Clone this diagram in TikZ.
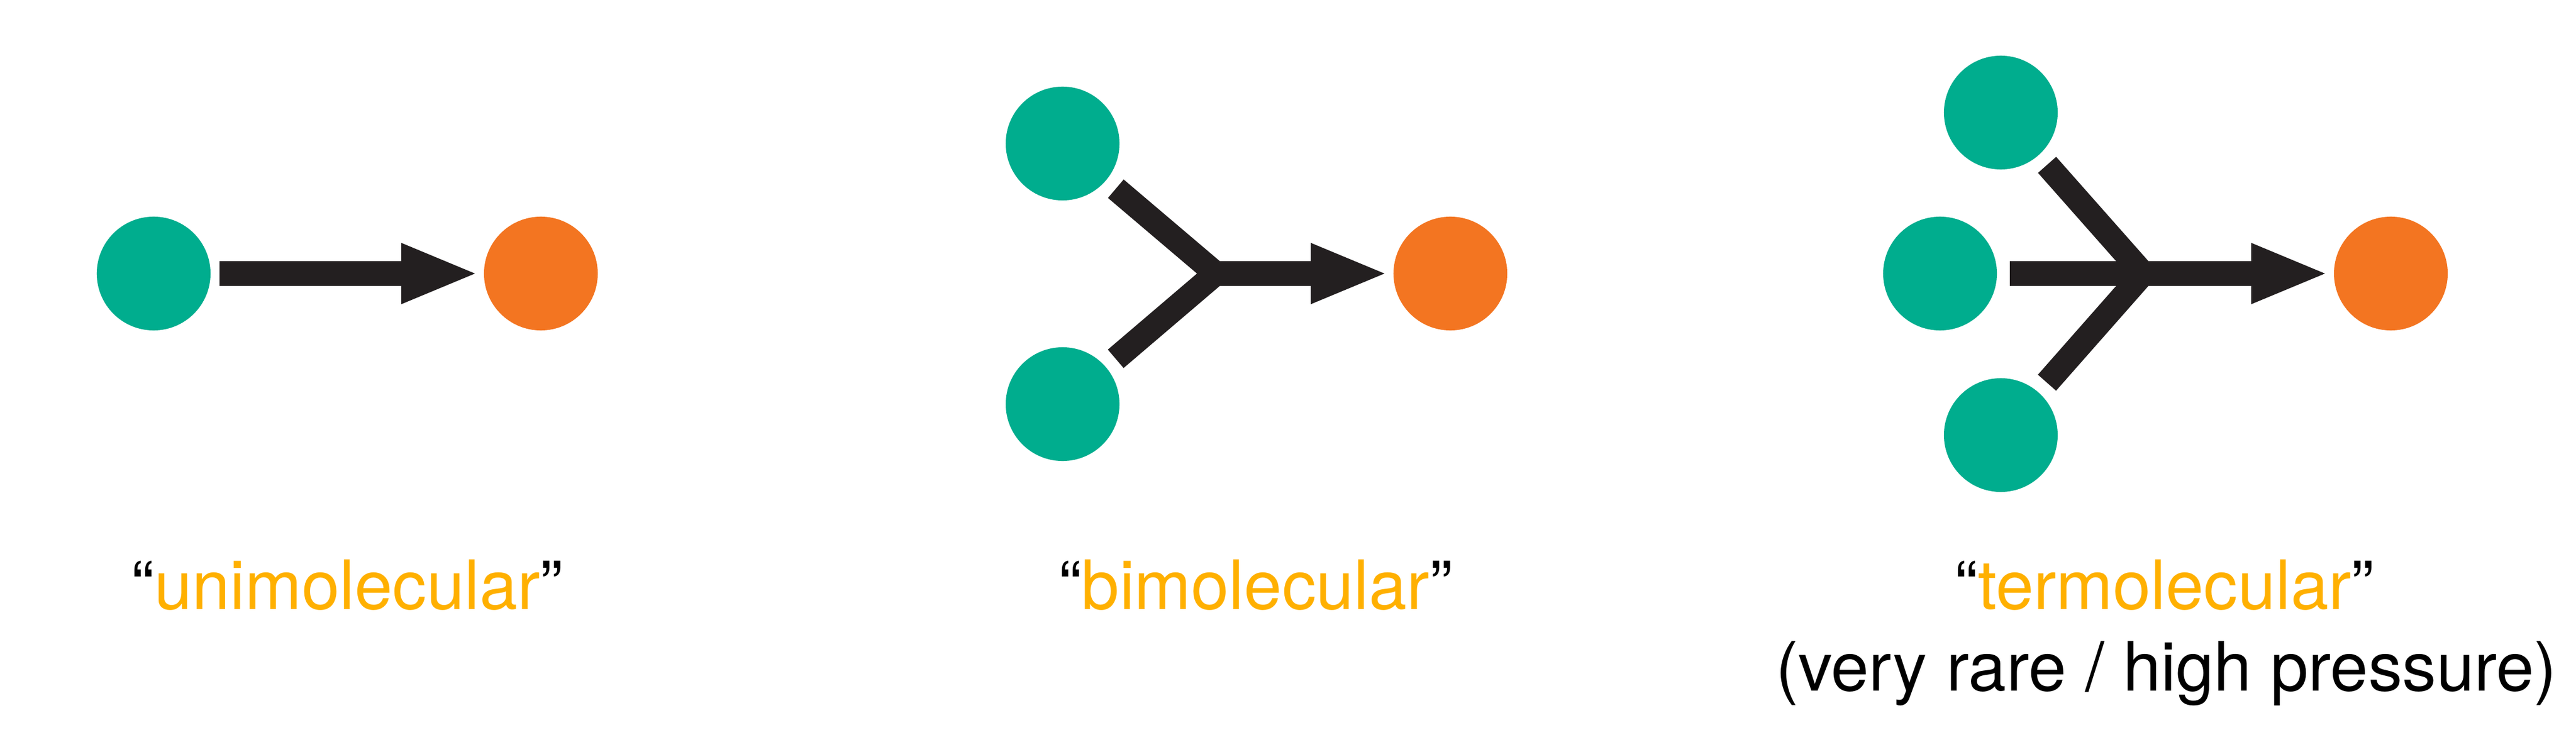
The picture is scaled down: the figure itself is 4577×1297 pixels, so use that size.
\documentclass[tikz,border=0pt]{standalone}
\usepackage{fontspec}
\setmainfont{TeX Gyre Heros}
\usetikzlibrary{arrows.meta}
\definecolor{molgreen}{HTML}{00AD8E}
\definecolor{molorange}{HTML}{F37521}
\definecolor{labelamber}{HTML}{FFB000}
\definecolor{arrowblack}{HTML}{231F20}
\tikzset{
  reactant/.style={circle, fill=molgreen, minimum size=2.02cm, inner sep=0pt, outer sep=0pt},
  product/.style={circle, fill=molorange, minimum size=2.02cm, inner sep=0pt, outer sep=0pt},
  shaft/.style={draw=arrowblack, line width=0.43cm, line cap=butt,
    -{Triangle[length=1.31cm, width=1.09cm, line width=0pt]}, shorten >=0.16cm},
  branch/.style={draw=arrowblack, line width=0.43cm, line cap=butt, line join=miter,
    shorten <=0.23cm, shorten >=0.23cm},
  lbl/.style={anchor=base, inner sep=0pt, font=\fontsize{34.4pt}{41pt}\selectfont},
}
\begin{document}
\begin{tikzpicture}[x=0.01cm, y=-0.01cm]
\useasboundingbox[fill=white] (0,0) rectangle (4577,1297);
% unimolecular
\node[reactant] (ug) at (273,486) {};
\node[product]  (uo) at (961,486) {};
\draw[shaft, shorten <=0.16cm] (ug) -- (uo);
% bimolecular
\node[reactant] (btg) at (1888,255) {};
\node[reactant] (bbg) at (1888,718) {};
\node[product]  (bo)  at (2577,486) {};
\coordinate (bj) at (2160,486);
\draw[branch] (btg) -- (bj) -- (bbg);
\draw[shaft] (bj) -- (bo);
% termolecular
\node[reactant] (ttg) at (3555,200) {};
\node[reactant] (tmg) at (3447,486) {};
\node[reactant] (tbg) at (3555,773) {};
\node[product]  (to)  at (4248,486) {};
\coordinate (tj) at (3808,486);
\draw[branch] (ttg) -- (tj) -- (tbg);
\draw[shaft, shorten <=0.23cm] (tmg) -- (to);
% labels
\node[lbl] (ul) at (617,1082) {“\textcolor{labelamber}{unimolecular}”};
\node[lbl] (bl) at (2231,1082) {“\textcolor{labelamber}{bimolecular}”};
\node[lbl] (tl) at (3846,1082) {“\textcolor{labelamber}{termolecular}”};
\node[lbl] (tn) at (3849,1227) {(very rare / high pressure)};
\end{tikzpicture}
\end{document}
